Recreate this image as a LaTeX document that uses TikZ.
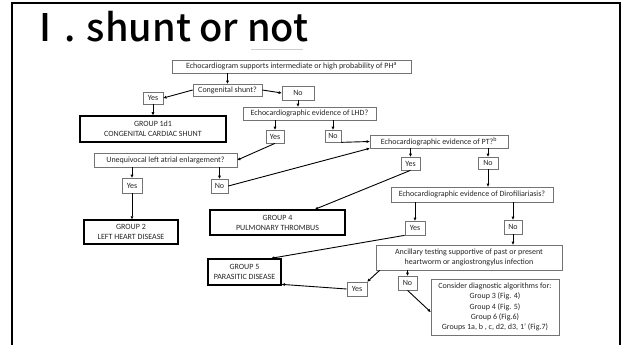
\documentclass[tikz,border=0pt]{standalone}
\usepackage{fontspec}
\setmainfont{Carlito}
\newfontfamily\titlefont{Noto Sans CJK JP}[UprightFont=* Medium]
\usetikzlibrary{arrows.meta,calc}

\begin{document}
\begin{tikzpicture}[x=1pt,y=-1pt,
  box/.style={draw=black!55, line width=0.7pt, fill=white, inner sep=0pt,
    text=black!85, font=\fontsize{8}{10}\selectfont, align=center},
  group/.style={box, draw=black, line width=1.5pt},
  sz/.style 2 args={minimum width=#1pt, minimum height=#2pt},
  conn/.style={draw=black, line width=0.9pt, -{Triangle[length=3pt,width=2.6pt]}},
]
\useasboundingbox (0,0) rectangle (625,345);

% slide frame and heading
\draw[line width=2.8pt] (12,350) -- (12,3) -- (620,3) -- (620,350);
\node[anchor=base west, inner sep=0pt, font=\titlefont\fontsize{38}{38}\selectfont] (title) at (26,42) {Ⅰ. shunt or not};
\draw[black!20, line width=0.8pt] (251,49) -- (303,49);

% decision boxes
\node[box, sz={239}{13}] (E) at (291.5,66.5) {Echocardiogram supports intermediate or high probability of PH\textsuperscript{a}};
\node[box, sz={69}{12}] (C) at (227.5,90) {Congenital shunt?};
\node[box, sz={20}{12}] (Y1) at (153,98) {Yes};
\node[box, sz={32}{14}] (N1) at (298,93) {No};
\node[group, sz={146}{26}] (G1) at (153,129) {GROUP 1d1\\CONGENITAL CARDIAC SHUNT};
\node[box, sz={133}{13}] (LHD) at (309.5,113.5) {Echocardiographic evidence of LHD?};
\node[box, sz={18}{13}] (Y2) at (275,136.5) {Yes};
\node[box, sz={16}{12}] (N2) at (333,136) {No};
\node[box, sz={138}{13}] (PT) at (439,141.5) {Echocardiographic evidence of PT?\textsuperscript{b}};
\node[box, sz={143}{14}] (U) at (165.5,160) {Unequivocal left atrial enlargement?};
\node[box, sz={20}{15}] (Y3) at (132,185.5) {Yes};
\node[box, sz={17}{14}] (N3) at (219.5,186) {No};
\node[group, sz={94}{24}] (G2) at (131,232) {GROUP 2\\LEFT HEART DISEASE};
\node[box, sz={19}{13}] (Y4) at (410.5,163.5) {Yes};
\node[box, sz={20}{12}] (N4) at (488,163) {No};
\node[box, sz={162}{15}] (D) at (472,194.5) {Echocardiographic evidence of Dirofiliariasis?};
\node[group, sz={135}{25}] (G4) at (277.5,222.5) {GROUP 4\\PULMONARY THROMBUS};
\node[box, sz={20}{14}] (Y5) at (415,228) {Yes};
\node[box, sz={18}{14}] (N5) at (513,227) {No};
\node[box, sz={186}{25}] (A) at (469,257.5) {Ancillary testing supportive of past or present\\heartworm or angiostrongylus infection};
\node[group, sz={73}{26}] (G5) at (244.5,272) {GROUP 5\\PARASITIC DISEASE};
\node[box, sz={20}{14}] (Y6) at (357,289) {Yes};
\node[box, sz={19}{14}] (N6) at (407.5,283) {No};
\node[box, sz={128}{56}, font=\fontsize{8}{10.4}\selectfont] (K) at (495,307) {Consider diagnostic algorithms for:\\Group 3 (Fig. 4)\\Group 4 (Fig. 5)\\Group 6 (Fig.6)\\Groups 1a, b , c, d2, d3, 1’ (Fig.7)};

% connectors
\draw[conn] (C.north |- E.south) -- (C.north);
\draw[conn] (C.west) -- (Y1.east);
\draw[conn] (C.east) -- (N1.west);
\draw[conn] (Y1.south) -- (Y1.south |- G1.north);
\draw[conn] (N1.south) -- (N1.south |- LHD.north);
\draw[conn] (Y2.north |- LHD.south) -- (Y2.north);
\draw[conn] (N2.north |- LHD.south) -- (N2.north);
\draw[conn] (Y2.south) -- (U.east);
\draw[conn] (N2.south east) -- (PT.west);
\draw[conn] (Y3.north |- U.south) -- (Y3.north);
\draw[conn] (N3.north |- U.south) -- (N3.north);
\draw[conn] (N3.east) -- (PT.south west);
\draw[conn] (Y3.south) -- (Y3.south |- G2.north);
\draw[conn] (Y4.north |- PT.south) -- (Y4.north);
\draw[conn] (N4.north |- PT.south) -- (N4.north);
\draw[conn] (Y4.south) -- ($(G4.north)!0.55!(G4.north east)$);
\draw[conn] (N4.south) -- (N4.south |- D.north);
\draw[conn] (Y5.north |- D.south) -- (Y5.north);
\draw[conn] (N5.north |- D.south) -- (N5.north);
\draw[conn] (Y5.south west) -- ($(G5.north)!0.72!(G5.north east)$);
\draw[conn] (N5.south) -- (N5.south |- A.north);
\draw[conn] (N6.north |- A.south) -- (N6.north);
\draw[conn] ($(A.south west)+(4,0)$) -- (Y6.north east);
\draw[conn] (Y6.west) -- ($(G5.east)!0.9!(G5.south east)$);
\draw[conn] (N6.south) -- ($(K.west)+(0,5)$);
\end{tikzpicture}
\end{document}
